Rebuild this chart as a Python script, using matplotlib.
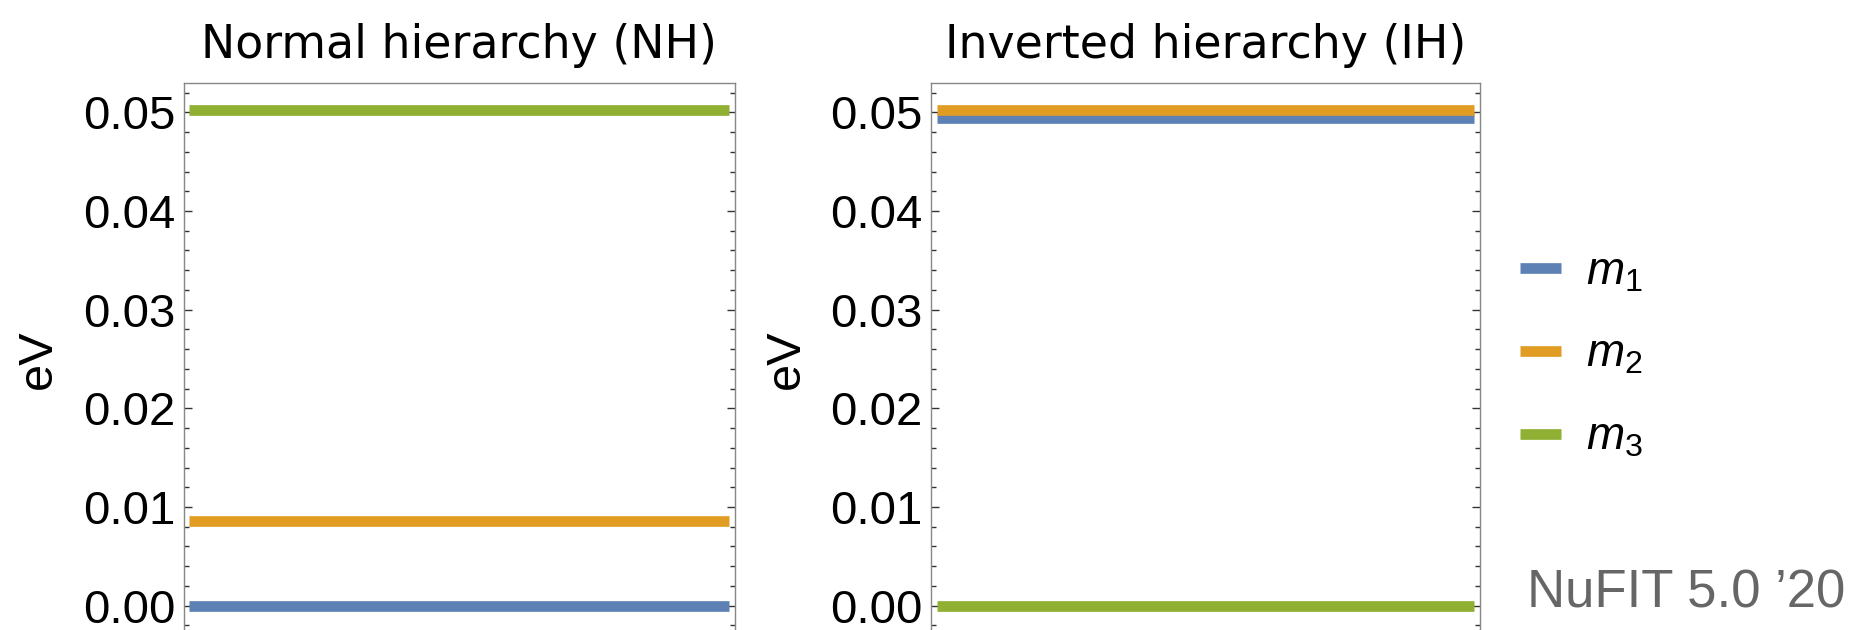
import matplotlib
matplotlib.use("Agg")
import matplotlib.pyplot as plt
from matplotlib.ticker import MultipleLocator, FixedLocator

# ---- data ----
labels = ["$m_1$", "$m_2$", "$m_3$"]
colors = ["#5E81B5", "#E19C24", "#8FB032"]
nh_masses = [0.0, 0.0086, 0.0502]      # eV, normal hierarchy
ih_masses = [0.0494, 0.0502, 0.0]      # eV, inverted hierarchy
titles = ["Normal hierarchy (NH)", "Inverted hierarchy (IH)"]
yticks = [0.00, 0.01, 0.02, 0.03, 0.04, 0.05]
ytick_labels = ["0.00", "0.01", "0.02", "0.03", "0.04", "0.05"]
x_span = [0.0, 1.0]
note = "NuFIT 5.0 \u201920"

plt.rcParams["font.family"] = ["Liberation Sans", "DejaVu Sans"]
plt.rcParams["mathtext.fontset"] = "custom"
plt.rcParams["mathtext.rm"] = "Liberation Sans"
plt.rcParams["mathtext.it"] = "Liberation Sans:italic"

W, H = 1851, 630
fig = plt.figure(figsize=(W / 100, H / 100), dpi=100)

def px_axes(left, right, top, bottom):
    return [left / W, (H - bottom) / H, (right - left) / W, (bottom - top) / H]

positions = [px_axes(183.7, 735, 82.7, 635.3), px_axes(931, 1480, 82.7, 635.3)]
datasets = [nh_masses, ih_masses]
label_x = [-0.222, -0.222]

handles = []
for i, (pos, masses) in enumerate(zip(positions, datasets)):
    ax = fig.add_axes(pos)
    hs = []
    for m, c, lab in zip(masses, colors, labels):
        h, = ax.plot(x_span, [m, m], color=c, lw=7.7, solid_capstyle="butt", label=lab)
        hs.append(h)
    if i == 1:
        handles = hs
    ax.set_xlim(-0.0104, 1.0104)
    ax.set_ylim(-0.003, 0.053)
    ax.set_xticks([])
    ax.yaxis.set_major_locator(FixedLocator(yticks))
    ax.set_yticklabels(ytick_labels)
    ax.yaxis.set_minor_locator(MultipleLocator(0.002))
    ax.tick_params(axis="y", which="both", direction="in", left=True, right=True,
                   color="#333333", width=1.0, labelsize=34, pad=6)
    ax.tick_params(axis="y", which="major", length=5.5)
    ax.tick_params(axis="y", which="minor", length=3.5)
    for s in ax.spines.values():
        s.set_color("#888888")
        s.set_linewidth(1.0)
    ax.set_title(titles[i], fontsize=33, pad=18, family=["DejaVu Sans"])
    ax.set_ylabel("eV", fontsize=35)
    ax.yaxis.set_label_coords(label_x[i], 0.5)

fig.legend(handles=handles, labels=labels, loc="center left",
           bbox_to_anchor=(1520 / W, (H - 355) / H), frameon=False,
           fontsize=33, handlelength=0.9, handletextpad=0.55, labelspacing=0.85,
           borderpad=0, borderaxespad=0)

fig.text(1527 / W, (H - 608) / H, note, fontsize=38, color="#666666",
         ha="left", va="baseline")

fig.savefig("out.png", dpi=100)
